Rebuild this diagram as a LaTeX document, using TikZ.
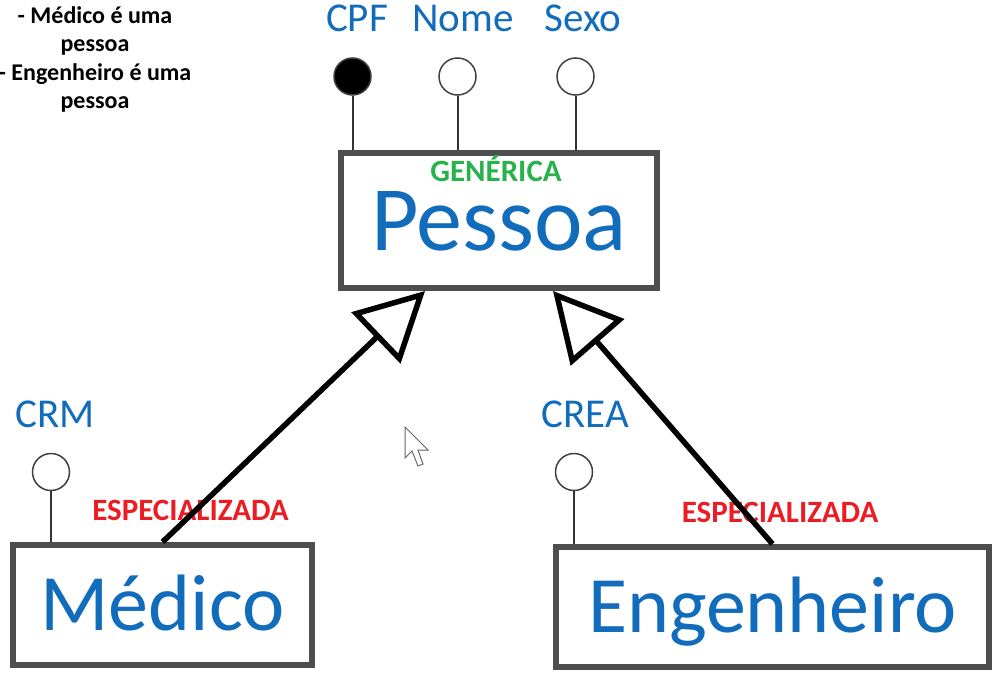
\documentclass[tikz,border=0pt]{standalone}
\usepackage{fontspec}
\setmainfont{Carlito}
\usepackage{tikz}
\usetikzlibrary{calc}
\usetikzlibrary{positioning}
\usetikzlibrary{arrows.meta}
\definecolor{azul}{RGB}{18,108,188}
\definecolor{verde}{RGB}{40,178,76}
\definecolor{vermelho}{RGB}{236,28,36}
\definecolor{borda}{RGB}{78,78,80}

\begin{document}
\begin{tikzpicture}[x=1pt, y=-1pt,
  entidade/.style={draw=borda, line width=6pt, fill=white, text=azul, inner sep=0pt,
    font=\fontsize{80}{80}\selectfont, text height=51pt, text depth=0pt},
  atrib/.style={circle, draw=black!75, line width=1.5pt, fill=white, minimum size=37pt, inner sep=0pt},
  chave/.style={atrib, fill=black},
  rotulo/.style={text=azul, anchor=base, font=\fontsize{41}{41}\selectfont},
  papel/.style={anchor=base, inner sep=0pt, font=\bfseries\fontsize{31}{31}\selectfont},
  ligacao/.style={draw=black!80, line width=2pt},
  heranca/.style={line width=5.5pt, -{Triangle[open, length=68pt, width=70pt]}}]
 \useasboundingbox (0,0) rectangle (995,677);

 % superclasse
 \node[name=pessoa, entidade, minimum width=316pt, minimum height=135pt,
   font=\fontsize{92}{92}\selectfont, text height=59pt] at (499,220.5) {Pessoa};
 \node[name=generica, papel, text=verde] at ($(pessoa.north)+(-3,31)$) {GENÉRICA};

 % subclasses
 \node[name=medico, entidade, minimum width=299pt, minimum height=120pt] at (162.5,605) {Médico};
 \node[name=engenheiro, entidade, minimum width=433pt, minimum height=120pt] at (772.5,607) {Engenheiro};
 \node[name=espmedico, papel, text=vermelho] at (190.5,520) {ESPECIALIZADA};
 \node[name=espeng, papel, text=vermelho] at (780,522) {ESPECIALIZADA};

 % atributos
 \node[name=cpf, chave] at (352.5,76.5) {};
 \node[name=nome, atrib] at (457.5,76.5) {};
 \node[name=sexo, atrib] at (575.5,76.5) {};
 \node[name=crm, atrib] at (51,472) {};
 \node[name=crea, atrib] at (574,472) {};

 \node[name=cpfrot, rotulo] at (357,32) {CPF};
 \node[name=nomerot, rotulo] at (463,32) {Nome};
 \node[name=sexorot, rotulo] at (583,32) {Sexo};
 \node[name=crmrot, rotulo] at (55,427) {CRM};
 \node[name=crearot, rotulo] at (585,427) {CREA};

 \draw[ligacao] (cpf) -- (cpf |- pessoa.north);
 \draw[ligacao] (nome) -- (nome |- pessoa.north);
 \draw[ligacao] (sexo) -- (sexo |- pessoa.north);
 \draw[ligacao] (crm) -- (crm |- medico.north);
 \draw[ligacao] (crea) -- (crea |- engenheiro.north);

 % generalizacao
 \coordinate (pontam) at ($(pessoa.south)+(-74,0)$);
 \coordinate (pontae) at ($(pessoa.south)+(54,0)$);
 \draw[heranca] (medico.north) -- (pontam);
 \draw[heranca] (engenheiro.north) -- (pontae);

 % nota
 \node[name=nota, align=center, inner sep=0pt, anchor=north,
   font=\bfseries\fontsize{24}{28.5}\selectfont] at (95,6) {- Médico é uma\\pessoa\\- Engenheiro é uma\\pessoa};

 % cursor
 \draw[black!60, fill=white, line width=1pt] (405,427) -- (405,458) -- (412,451) -- (418,466)
   -- (423,464) -- (418,450) -- (428,450) -- cycle;
\end{tikzpicture}
\end{document}
